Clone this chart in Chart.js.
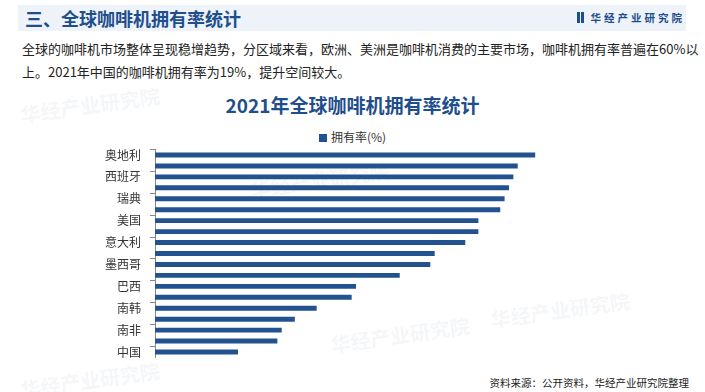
<!DOCTYPE html>
<html>
<head>
<meta charset="utf-8">
<script src="https://cdn.jsdelivr.net/npm/chart.js@4"></script>
<style>
  body { margin: 0; width: 705px; height: 392px; background: #fff; position: relative; overflow: hidden;
         font-family: "Noto Sans CJK SC", "Noto Sans", sans-serif; }
  .band { position: absolute; left: 18px; top: 5px; width: 668px; height: 26px; background: #eef3fa; }
  .head { position: absolute; left: 25px; top: 4px; font-size: 18px; font-weight: bold; color: #1f4e8c; line-height: 28px; }
  .logo { position: absolute; left: 577px; top: 11px; font-size: 10.5px; font-weight: bold; color: #1f4e8c; letter-spacing: 3px; line-height: 14px; }
  .logo i { display: inline-block; width: 3px; height: 11px; background: #1f4e8c; margin-right: 1px; vertical-align: -1px; }
  .intro { position: absolute; left: 22px; top: 37px; font-size: 13px; line-height: 23px; color: #222; }
  .src { position: absolute; right: 16px; top: 375px; font-size: 10.5px; color: #222; }
  .wm { position: absolute; color: rgba(190, 200, 215, 0.16); font-weight: bold; font-size: 20px; transform: rotate(-8deg); }
  .ctitle { position: absolute; left: 0; width: 705px; top: 92px; text-align: center; font-size: 19px; font-weight: bold; color: #1f4e8c; line-height: 26px; }
  .legend { position: absolute; left: 0; width: 705px; top: 129px; text-align: center; font-size: 12px; color: #333; line-height: 16px; }
  .legend span.box { display: inline-block; width: 8px; height: 8px; margin-right: 4px; vertical-align: 0px; }
  #wrap { position: absolute; left: 0; top: 140px; width: 705px; height: 220px; }
</style>
</head>
<body>
<div class="band"></div>
<div class="head">三、全球咖啡机拥有率统计</div>
<div class="logo"><i></i><i></i> 华经产业研究院</div>
<div class="intro">全球的咖啡机市场整体呈现稳增趋势，分区域来看，欧洲、美洲是咖啡机消费的主要市场，咖啡机拥有率普遍在60%以<br>上。2021年中国的咖啡机拥有率为19%，提升空间较大。</div>
<div class="wm" style="left:20px;top:90px;">华经产业研究院</div>
<div class="wm" style="left:250px;top:165px;">华经产业研究院</div>
<div class="wm" style="left:490px;top:295px;">华经产业研究院</div>
<div class="wm" style="left:20px;top:365px;">华经产业研究院</div>
<div class="wm" style="left:330px;top:320px;">华经产业研究院</div>
<div class="ctitle" id="ctitle"></div>
<div class="legend" id="legend"></div>
<div id="wrap"><canvas id="chart"></canvas></div>
<div class="src">资料来源：公开资料，华经产业研究院整理</div>
<script>
const chartTitle = "2021年全球咖啡机拥有率统计";
const categories = ["奥地利", "德国", "西班牙", "法国", "瑞典", "英国", "美国", "加拿大", "意大利", "澳大利亚",
                    "墨西哥", "俄罗斯", "巴西", "日本", "南韩", "土耳其", "南非", "印度", "中国"];
const ownership = [87, 83, 82, 81, 80, 79, 74, 74, 71, 64, 63, 56, 46, 45, 37, 32, 29, 28, 19];
const seriesName = "拥有率(%)";
const barColor = "#22528f";

document.getElementById("ctitle").innerText = chartTitle;
document.getElementById("legend").innerHTML =
  `<span class="box" style="background:${barColor}"></span>${seriesName}`;

new Chart(document.getElementById("chart"), {
  type: "bar",
  data: {
    labels: categories,
    datasets: [{
      label: seriesName,
      data: ownership,
      backgroundColor: barColor,
      borderWidth: 0,
      barPercentage: 0.9,
      categoryPercentage: 0.5
    }]
  },
  options: {
    indexAxis: "y",
    responsive: true,
    maintainAspectRatio: false,
    animation: false,
    layout: { padding: { left: 0, right: 113, top: 9.5, bottom: 2.5 } },
    plugins: {
      legend: { display: false },
      tooltip: { enabled: false }
    },
    scales: {
      x: { display: false, min: 0, max: 100 },
      y: {
        afterFit: s => {
          s.width = 155;
          // labels sit in the middle of each band, no extra room needed
          s.paddingTop = 0;
          s.paddingBottom = 0;
        },
        border: { color: "#888" },
        grid: {
          drawOnChartArea: false,
          offset: true,
          tickLength: 5,
          tickColor: c => c.index % 2 === 0 ? "#888" : "rgba(0,0,0,0)"
        },
        ticks: {
          autoSkip: false,
          padding: 9,
          color: "#333",
          font: { size: 12, family: "'Noto Sans CJK SC'" },
          callback: (v, i) => i % 2 === 0 ? categories[i] : ""
        }
      }
    }
  }
});
</script>
</body>
</html>
